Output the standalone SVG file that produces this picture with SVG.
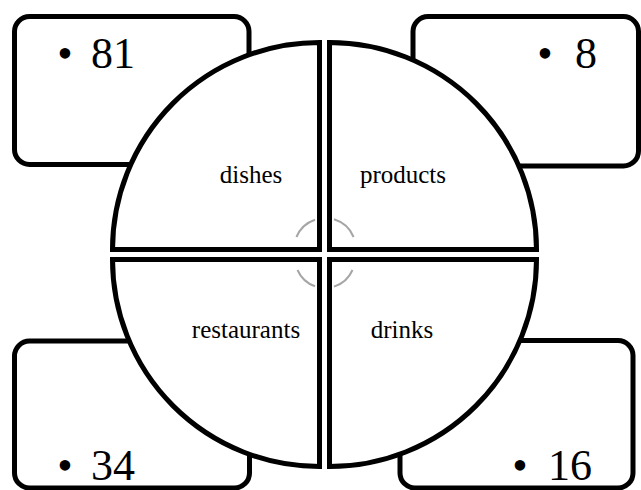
<svg xmlns="http://www.w3.org/2000/svg" width="641" height="490" viewBox="0 0 641 490">
<style>
.box{fill:#fff;stroke:#000;stroke-width:5}
.q{fill:#fff;stroke:#000;stroke-width:5;stroke-linejoin:miter}
.arc{fill:none;stroke:#a6a6a6;stroke-width:2}
text{font-family:'Liberation Serif','Times New Roman',serif;fill:#000}
.num{font-size:44px}
.lbl{font-size:25px;text-anchor:middle}
</style>
<g id="box-81"><rect class="box" x="14.5" y="16.5" width="234.5" height="148" rx="15"/><text class="num" x="65" y="68" text-anchor="middle">•</text><text class="num" x="91" y="68">81</text></g>
<g id="box-8"><rect class="box" x="413" y="16.5" width="225.5" height="149.5" rx="15"/><text class="num" x="545" y="68" text-anchor="middle">•</text><text class="num" x="575" y="68">8</text></g>
<g id="box-34"><rect class="box" x="14.5" y="341" width="235" height="147" rx="15"/><text class="num" x="65" y="480" text-anchor="middle">•</text><text class="num" x="91" y="480">34</text></g>
<g id="box-16"><rect class="box" x="400" y="340.5" width="233" height="147.5" rx="15"/><text class="num" x="520" y="480" text-anchor="middle">•</text><text class="num" x="548" y="480">16</text></g>
<g id="q-dishes"><path class="q" d="M319.5 249.5 L112.5 249.5 A207 207 0 0 1 319.5 42.5 Z"/><text class="lbl" x="251" y="183">dishes</text></g>
<g id="q-products"><path class="q" d="M329.5 249.5 L329.5 42.5 A207 207 0 0 1 536.5 249.5 Z"/><text class="lbl" x="403" y="183">products</text></g>
<g id="q-drinks"><path class="q" d="M329.5 259.5 L536.5 259.5 A207 207 0 0 1 329.5 466.5 Z"/><text class="lbl" x="402" y="338">drinks</text></g>
<g id="q-restaurants"><path class="q" d="M319.5 259.5 L319.5 466.5 A207 207 0 0 1 112.5 259.5 Z"/><text class="lbl" x="246" y="338">restaurants</text></g>
<g id="connectors">
<path class="arc" d="M296.4 237 A31 31 0 0 1 315 219.7"/>
<path class="arc" d="M334 219.3 A31 31 0 0 1 353.6 237"/>
<path class="arc" d="M297.5 270 A30 30 0 0 0 315 286.3"/>
<path class="arc" d="M334 286.6 A30 30 0 0 0 352.5 270"/>
</g>
</svg>
